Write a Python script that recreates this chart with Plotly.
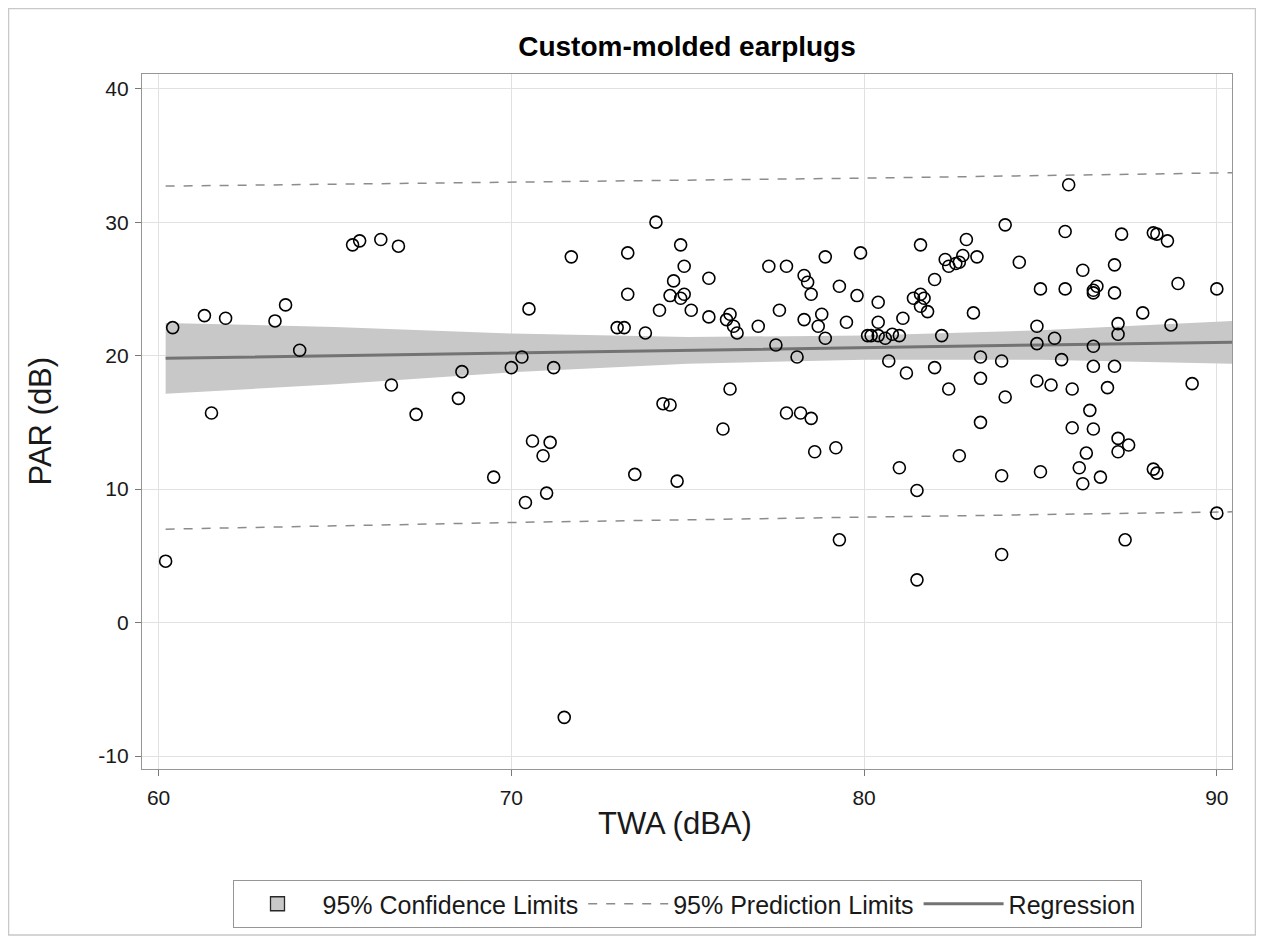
import plotly.graph_objects as go

# ---- Data ----
twa = [60.2, 60.4, 61.3, 61.5, 61.9, 63.3, 63.6, 64.0, 65.5, 65.7, 66.3, 66.6, 66.8, 67.3, 68.5, 68.6,
       69.5, 70.0, 70.3, 70.5, 70.4, 70.6, 70.9, 71.0, 71.1, 71.2, 71.5, 71.7, 73.0, 73.2, 73.3, 73.3,
       73.5, 73.8, 74.1, 74.2, 74.3, 74.5, 74.5, 74.6, 74.7, 74.8, 74.9, 74.9, 74.8, 75.1, 75.6, 75.6,
       76.0, 76.1, 76.2, 76.2, 76.3, 76.4, 77.0, 77.3, 77.5, 77.6, 77.8, 77.8, 78.1, 78.2, 78.3, 78.3,
       78.4, 78.5, 78.5, 78.6, 78.7, 78.8, 78.9, 78.9, 79.2, 79.3, 79.3, 79.5, 79.8, 79.9, 80.1, 80.2,
       80.4, 80.4, 80.4, 80.7, 80.6, 80.8, 81.0, 81.0, 81.1, 81.2, 81.4, 81.6, 81.5, 81.5, 81.6, 81.6,
       81.7, 81.8, 82.0, 82.0, 82.2, 82.3, 82.4, 82.4, 82.6, 82.7, 82.7, 82.8, 82.9, 83.1, 83.2, 83.3,
       83.3, 83.3, 83.9, 83.9, 83.9, 84.0, 84.0, 84.4, 84.9, 84.9, 84.9, 85.0, 85.0, 85.3, 85.4, 85.6,
       85.7, 85.7, 85.8, 85.9, 85.9, 86.1, 86.2, 86.2, 86.3, 86.4, 86.5, 86.5, 86.5, 86.5, 86.5, 86.6,
       86.7, 86.9, 87.1, 87.1, 87.1, 87.2, 87.2, 87.2, 87.2, 87.3, 87.4, 87.5, 87.9, 88.2, 88.2, 88.3,
       88.3, 88.6, 88.7, 88.9, 89.3, 90.0, 90.0]
par = [4.6, 22.1, 23.0, 15.7, 22.8, 22.6, 23.8, 20.4, 28.3, 28.6, 28.7, 17.8, 28.2, 15.6, 16.8, 18.8,
       10.9, 19.1, 19.9, 23.5, 9.0, 13.6, 12.5, 9.7, 13.5, 19.1, -7.1, 27.4, 22.1, 22.1, 27.7, 24.6,
       11.1, 21.7, 30.0, 23.4, 16.4, 16.3, 24.5, 25.6, 10.6, 28.3, 26.7, 24.6, 24.3, 23.4, 25.8, 22.9,
       14.5, 22.7, 23.1, 17.5, 22.2, 21.7, 22.2, 26.7, 20.8, 23.4, 26.7, 15.7, 19.9, 15.7, 26.0, 22.7,
       25.5, 24.6, 15.3, 12.8, 22.2, 23.1, 27.4, 21.3, 13.1, 6.2, 25.2, 22.5, 24.5, 27.7, 21.5, 21.5,
       22.5, 24.0, 21.5, 19.6, 21.3, 21.6, 21.5, 11.6, 22.8, 18.7, 24.3, 24.6, 9.9, 3.2, 28.3, 23.7,
       24.3, 23.3, 19.1, 25.7, 21.5, 27.2, 17.5, 26.7, 26.9, 12.5, 27.0, 27.5, 28.7, 23.2, 27.4, 18.3,
       19.9, 15.0, 11.0, 19.6, 5.1, 29.8, 16.9, 27.0, 22.2, 18.1, 20.9, 11.3, 25.0, 17.8, 21.3, 19.7,
       29.3, 25.0, 32.8, 14.6, 17.5, 11.6, 10.4, 26.4, 12.7, 15.9, 14.5, 24.9, 24.7, 20.7, 19.2, 25.2,
       10.9, 17.6, 24.7, 26.8, 19.2, 13.8, 22.4, 21.6, 12.8, 29.1, 6.2, 13.3, 23.2, 29.2, 11.5, 11.2,
       29.1, 28.6, 22.3, 25.4, 17.9, 25.0, 8.2]

# regression fit and limits, read at a few x positions
fit_x = [60.2, 65, 70, 75, 80, 85, 90.45]
fit_y = [19.8, 20.0, 20.2, 20.4, 20.6, 20.8, 21.0]
ci_lo = [17.15, 17.85, 18.75, 19.4, 19.7, 19.7, 19.4]
ci_hi = [22.45, 22.15, 21.65, 21.4, 21.5, 21.9, 22.6]
pi_x = [60.2, 70, 80, 90.45]
pi_lo = [7.0, 7.5, 7.9, 8.3]
pi_hi = [32.7, 33.0, 33.3, 33.7]

x_ticks = [60, 70, 80, 90]
y_ticks = [-10, 0, 10, 20, 30, 40]
y_ticktext = ["-10", "0", "10", "20", "30", "40"]

FONT = "Liberation Sans, Arial, sans-serif"
TXT = "rgb(25,25,25)"

W, H = 1256, 934            # page body has an 8px margin
ML, MR, MT, MB = 134, 32, 66, 173
PH = H - MT - MB
PW = W - ML - MR

fig = go.Figure()

# confidence band
fig.add_trace(go.Scatter(
    x=fit_x + fit_x[::-1], y=ci_hi + ci_lo[::-1],
    fill="toself", fillcolor="rgb(200,200,200)", line=dict(width=0),
    mode="lines", showlegend=False, hoverinfo="skip"))
# legend entry for the band
fig.add_trace(go.Scatter(
    x=[None], y=[None], mode="markers", name="95% Confidence Limits",
    marker=dict(symbol="square", size=14, color="rgb(200,200,200)",
                line=dict(color="rgb(40,40,40)", width=1.3))))
# prediction limits
fig.add_trace(go.Scatter(
    x=pi_x, y=pi_hi, mode="lines", name="95% Prediction Limits", legendgroup="pi",
    line=dict(color="rgb(140,140,140)", width=1.5, dash="dash")))
fig.add_trace(go.Scatter(
    x=pi_x, y=pi_lo, mode="lines", showlegend=False, legendgroup="pi",
    line=dict(color="rgb(140,140,140)", width=1.5, dash="dash")))
# regression line
fig.add_trace(go.Scatter(
    x=fit_x, y=fit_y, mode="lines", name="Regression",
    line=dict(color="rgb(115,115,115)", width=3)))
# observations
fig.add_trace(go.Scatter(
    x=twa, y=par, mode="markers", showlegend=False,
    marker=dict(symbol="circle-open", size=12, color="black", line=dict(width=1.6))))

axis_common = dict(
    showgrid=True, gridcolor="rgb(225,225,225)", gridwidth=1,
    zeroline=False, showline=True, linecolor="rgb(150,150,150)", linewidth=1.2,
    mirror=True, ticks="outside", ticklen=6, tickcolor="rgb(120,120,120)",
    tickfont=dict(family=FONT, size=21, color=TXT),
)

fig.update_layout(
    width=W, height=H,
    paper_bgcolor="white", plot_bgcolor="white",
    margin=dict(l=ML, r=MR, t=MT, b=MB, autoexpand=False),
    title=dict(text="<b>Custom-molded earplugs</b>", x=0.5, xref="paper",
               y=1 - 38 / H, yanchor="middle",
               font=dict(family=FONT, size=28, color="black")),
    xaxis=dict(range=[59.53, 90.43], tickvals=x_ticks, ticklabelstandoff=4, **axis_common),
    yaxis=dict(range=[-10.97, 41.1], tickvals=y_ticks, ticktext=y_ticktext,
               ticklabelstandoff=2, **axis_common),
    legend=dict(orientation="h", x=0.5, xanchor="center", y=(PH - (872 - MT)) / PH,
                yanchor="top", yref="paper", bordercolor="rgb(150,150,150)", borderwidth=1,
                bgcolor="white", itemwidth=80, tracegroupgap=0,
                font=dict(family=FONT, size=25, color=TXT)),
    showlegend=True,
)

# axis titles
fig.add_annotation(text="TWA (dBA)", xref="paper", yref="paper", x=(667 - ML) / PW,
                   y=(PH - (815 - MT)) / PH, xanchor="center", yanchor="middle",
                   showarrow=False, font=dict(family=FONT, size=31, color=TXT))
fig.add_annotation(text="PAR (dB)", xref="paper", yref="paper",
                   x=(32 - ML) / PW, y=0.5, xanchor="center", yanchor="middle",
                   textangle=-90, showarrow=False,
                   font=dict(family=FONT, size=31, color=TXT))

# outer border of the graph
fig.add_shape(type="rect", xref="paper", yref="paper",
              x0=(0.5 - ML) / PW, x1=(W - 8.5 - ML) / PW,
              y0=(PH - (H - 7 - MT)) / PH, y1=(PH + MT - 0.5) / PH,
              line=dict(color="rgb(200,200,200)", width=1.5), layer="below")

fig.write_html("out.html")
